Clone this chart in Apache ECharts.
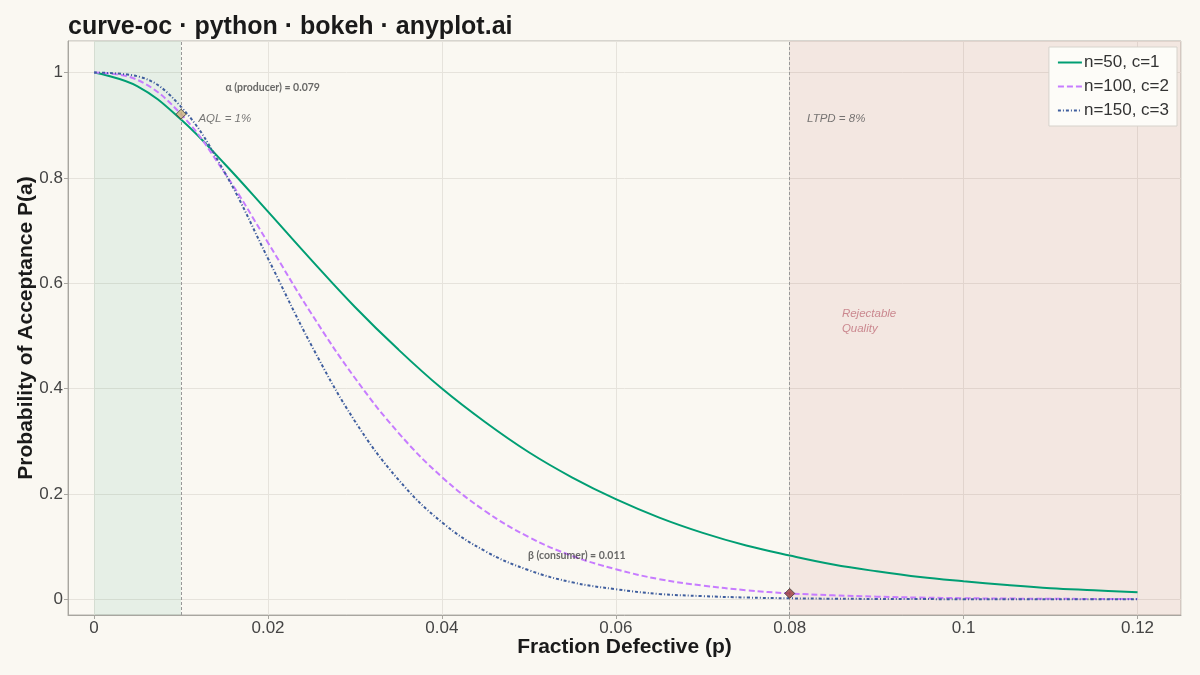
<!DOCTYPE html>
<html>
<head>
<meta charset="utf-8">
<title>curve-oc</title>
<script src="https://cdn.jsdelivr.net/npm/echarts@6/dist/echarts.min.js"></script>
<style>
  html, body { margin: 0; padding: 0; background: #FAF8F2; }
  #chart { width: 1200px; height: 675px; }
</style>
</head>
<body>
<div id="chart"></div>
<script>
// fraction defective p
const pValues = [0, 0.005, 0.01, 0.015, 0.02, 0.025, 0.03, 0.035, 0.04, 0.045, 0.05,
  0.055, 0.06, 0.065, 0.07, 0.075, 0.08, 0.085, 0.09, 0.095, 0.1, 0.105, 0.11, 0.115, 0.12];

// probability of acceptance for each sampling plan
const planN50 = [1, 0.974, 0.911, 0.827, 0.736, 0.644, 0.555, 0.474, 0.400, 0.336, 0.279,
  0.231, 0.190, 0.155, 0.126, 0.102, 0.083, 0.066, 0.053, 0.042, 0.034, 0.027, 0.021, 0.017, 0.013];
const planN100 = [1, 0.986, 0.921, 0.810, 0.677, 0.542, 0.420, 0.316, 0.232, 0.167, 0.118,
  0.082, 0.057, 0.038, 0.026, 0.017, 0.011, 0.0074, 0.0048, 0.0031, 0.0019, 0.0012, 0.0008, 0.0005, 0.0003];
const planN150 = [1, 0.993, 0.935, 0.811, 0.647, 0.482, 0.338, 0.227, 0.146, 0.091, 0.055,
  0.032, 0.019, 0.010, 0.0058, 0.0032, 0.0017, 0.0009, 0.0005, 0.0002, 0.0001, 0.00006, 0.00003, 0.00002, 0.00001];

const planNames = ['n=50, c=1', 'n=100, c=2', 'n=150, c=3'];
const aql = 0.01, ltpd = 0.08;
const alphaPa = 0.921, betaPa = 0.011;
const pMax = 0.125;

const pairs = ys => pValues.map((p, i) => [p, ys[i]]);

const chart = echarts.init(document.getElementById('chart'));

const font = 'Liberation Sans, Arial, sans-serif';

chart.setOption({
  backgroundColor: '#FAF8F2',
  animation: false,
  title: {
    text: 'curve-oc · python · bokeh · anyplot.ai',
    left: 63, top: 10,
    textStyle: { fontFamily: font, fontSize: 25, fontWeight: 'bold', color: '#1a1a1a' }
  },
  legend: {
    data: planNames,
    orient: 'vertical',
    right: 23, top: 47,
    padding: [7, 8, 7, 8],
    itemGap: 7,
    itemWidth: 24, itemHeight: 12,
    itemStyle: { opacity: 0 },
    backgroundColor: '#FDFCF8',
    borderColor: '#d6d3cc', borderWidth: 1,
    textStyle: { fontFamily: font, fontSize: 17, color: '#333', padding: [0, 0, 0, -3] }
  },
  grid: {
    left: 68, right: 19, top: 41, bottom: 60,
    show: true, borderColor: '#b5b3ad', borderWidth: 1, backgroundColor: 'transparent'
  },
  xAxis: {
    type: 'value', min: -0.003, max: pMax, splitNumber: 6,
    name: 'Fraction Defective (p)', nameLocation: 'middle', nameGap: 22, nameMoveOverlap: false,
    nameTextStyle: { fontFamily: font, fontSize: 21, fontWeight: 'bold', color: '#1a1a1a' },
    axisLine: { onZero: false, lineStyle: { color: '#a8a6a0' } },
    axisTick: { length: 4, lineStyle: { color: '#a8a6a0' } },
    axisLabel: { fontFamily: font, fontSize: 17, color: '#444', margin: 5, showMinLabel: false, showMaxLabel: false },
    splitLine: { lineStyle: { color: '#e6e3dc' } }
  },
  yAxis: {
    type: 'value', min: -0.03, max: 1.06, splitNumber: 5,
    name: 'Probability of Acceptance P(a)', nameLocation: 'middle', nameGap: 31, nameMoveOverlap: false,
    nameTextStyle: { fontFamily: font, fontSize: 21, fontWeight: 'bold', color: '#1a1a1a' },
    axisLine: { show: true, onZero: false, lineStyle: { color: '#a8a6a0' } },
    axisTick: { show: true, length: 4, lineStyle: { color: '#a8a6a0' } },
    axisLabel: { fontFamily: font, fontSize: 17, color: '#444', margin: 5, showMinLabel: false, showMaxLabel: false },
    splitLine: { lineStyle: { color: '#e6e3dc' } }
  },
  series: [
    {
      name: planNames[0], type: 'line', data: pairs(planN50), smooth: 0.4,
      showSymbol: false, symbol: 'none', z: 4,
      lineStyle: { color: '#009E73', width: 2 }, itemStyle: { color: '#009E73' },
      markArea: {
        silent: true,
        data: [
          [{ xAxis: 0, itemStyle: { color: 'rgba(0,140,90,0.08)' } }, { xAxis: aql }],
          [{ xAxis: ltpd, itemStyle: { color: 'rgba(190,90,80,0.10)' } }, { xAxis: pMax }]
        ]
      },
      markLine: {
        silent: true, symbol: 'none', label: { show: false },
        lineStyle: { color: '#999', type: [3, 2], width: 1 },
        data: [{ xAxis: aql }, { xAxis: ltpd }]
      }
    },
    {
      name: planNames[1], type: 'line', data: pairs(planN100), smooth: 0.4,
      showSymbol: false, symbol: 'none', z: 4,
      lineStyle: { color: '#C77CFF', width: 2, type: [6, 3] }, itemStyle: { color: '#C77CFF' }
    },
    {
      name: planNames[2], type: 'line', data: pairs(planN150), smooth: 0.4,
      showSymbol: false, symbol: 'none', z: 4,
      lineStyle: { color: '#3F5E9E', width: 2, type: [3, 2, 1, 2] }, itemStyle: { color: '#3F5E9E' }
    },
    {
      name: 'risk points', type: 'scatter', z: 6, symbol: 'diamond', symbolSize: 10,
      data: [
        { value: [aql, alphaPa], itemStyle: { color: '#C9B27A', borderColor: '#3a3a3a', borderWidth: 1 } },
        { value: [ltpd, betaPa], itemStyle: { color: '#9A3B3B', borderColor: '#3a3a3a', borderWidth: 1 } }
      ]
    },
    {
      name: 'notes', type: 'scatter', z: 7, symbolSize: 0, silent: true,
      label: { show: true, position: 'right', distance: 0, fontFamily: 'Lato, sans-serif', color: '#444' },
      data: [
        { value: [0.0151, 0.972], label: { formatter: 'α (producer) = 0.079', fontSize: 10.5, fontWeight: 'bold' } },
        { value: [0.012, 0.912], label: { formatter: 'AQL = 1%', fontSize: 11.5, fontStyle: 'italic', fontFamily: font, color: '#555' } },
        { value: [0.082, 0.912], label: { formatter: 'LTPD = 8%', fontSize: 11.5, fontStyle: 'italic', fontFamily: font, color: '#555' } },
        { value: [0.086, 0.527], label: { formatter: 'Rejectable\nQuality', fontSize: 11.5, fontStyle: 'italic', fontFamily: font, color: '#C0707A', lineHeight: 15 } },
        { value: [0.0499, 0.082], label: { formatter: 'β (consumer) = 0.011', fontSize: 10.5, fontWeight: 'bold' } }
      ]
    }
  ]
});
</script>
</body>
</html>
